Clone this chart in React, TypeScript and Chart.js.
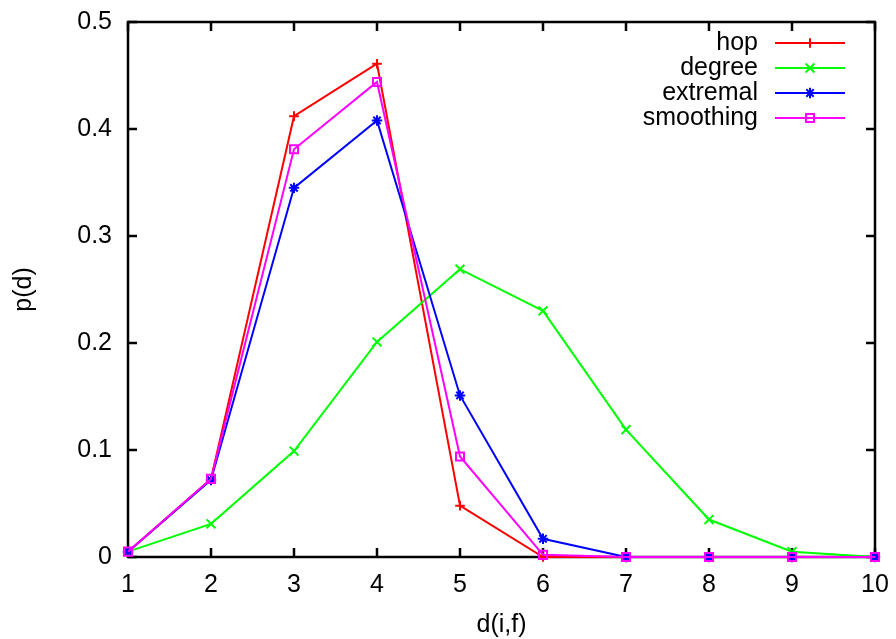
import React, { useEffect, useRef } from "react";
import { Chart, registerables } from "chart.js";

Chart.register(...registerables);

const xValues = [1, 2, 3, 4, 5, 6, 7, 8, 9, 10];
const hop = [0.005, 0.073, 0.412, 0.461, 0.048, 0.0, 0.0, 0.0, 0.0, 0.0];
const degree = [0.005, 0.031, 0.099, 0.201, 0.269, 0.23, 0.119, 0.035, 0.005, 0.0];
const extremal = [0.005, 0.072, 0.345, 0.408, 0.151, 0.017, 0.0, 0.0, 0.0, 0.0];
const smoothing = [0.005, 0.073, 0.381, 0.444, 0.094, 0.002, 0.0, 0.0, 0.0, 0.0];
const seriesNames = ["hop", "degree", "extremal", "smoothing"];
const yTickValues = [0, 0.1, 0.2, 0.3, 0.4, 0.5];

const FONT = "'Liberation Sans', Arial, Helvetica, sans-serif";
const FS = 25;

function drawMarker(ctx: CanvasRenderingContext2D, style: string, r: number, x: number, y: number) {
  const d = Math.SQRT1_2 * r;
  ctx.beginPath();
  if (style === "cross" || style === "star") {
    ctx.moveTo(x - r, y);
    ctx.lineTo(x + r, y);
    ctx.moveTo(x, y - r);
    ctx.lineTo(x, y + r);
  }
  if (style === "crossRot" || style === "star") {
    ctx.moveTo(x - d, y - d);
    ctx.lineTo(x + d, y + d);
    ctx.moveTo(x - d, y + d);
    ctx.lineTo(x + d, y - d);
  }
  if (style === "rect") {
    ctx.rect(x - d, y - d, 2 * d, 2 * d);
  }
  ctx.stroke();
}

const framePlugin = {
  id: "gnuplotFrame",
  beforeDatasetsDraw(chart: any) {
    const { ctx, chartArea } = chart;
    const { left, right, top, bottom } = chartArea;
    const xs = chart.scales.x;
    const ys = chart.scales.y;
    const tl = 9;
    ctx.save();
    ctx.strokeStyle = "#000";
    ctx.lineWidth = 2.5;
    ctx.lineCap = "butt";
    ctx.beginPath();
    ys.ticks.forEach((t: any) => {
      const y = ys.getPixelForValue(t.value);
      ctx.moveTo(left, y);
      ctx.lineTo(left + tl, y);
      ctx.moveTo(right, y);
      ctx.lineTo(right - tl, y);
    });
    xs.ticks.forEach((t: any) => {
      const x = xs.getPixelForValue(t.value);
      ctx.moveTo(x, bottom);
      ctx.lineTo(x, bottom - tl);
      ctx.moveTo(x, top);
      ctx.lineTo(x, top + tl);
    });
    ctx.stroke();
    ctx.lineJoin = "miter";
    ctx.strokeRect(left, top, right - left, bottom - top);
    ctx.restore();
  },
  afterDatasetsDraw(chart: any) {
    const { ctx } = chart;
    const textRight = 758;
    const lineL = 775;
    const lineR = 845;
    const y0 = 43;
    const dy = 25;
    ctx.save();
    ctx.font = `${FS}px ${FONT}`;
    ctx.textAlign = "right";
    ctx.textBaseline = "middle";
    chart.data.datasets.forEach((ds: any, i: number) => {
      const y = y0 + i * dy;
      ctx.fillStyle = "#000";
      ctx.fillText(ds.label, textRight, y);
      ctx.strokeStyle = ds.borderColor;
      ctx.lineWidth = ds.borderWidth;
      ctx.beginPath();
      ctx.moveTo(lineL, y);
      ctx.lineTo(lineR, y);
      ctx.stroke();
      ctx.lineWidth = ds.pointBorderWidth;
      drawMarker(ctx, ds.pointStyle, ds.pointRadius, (lineL + lineR) / 2, y);
    });
    ctx.restore();
  },
};

export default function App() {
  const ref = useRef<HTMLCanvasElement | null>(null);
  useEffect(() => {
    document.body.style.margin = "0";
    const mk = (vals: number[]) => xValues.map((x, i) => ({ x, y: vals[i] }));
    const colors = ["#ff0000", "#00ff00", "#0000ff", "#ff00ff"];
    const styles = ["cross", "crossRot", "star", "rect"];
    const radii = [4.8, 6.3, 5.2, 5.7];
    const all = [hop, degree, extremal, smoothing];
    const chart = new Chart(ref.current as HTMLCanvasElement, {
      type: "line",
      data: {
        datasets: all.map((vals, i) => ({
          label: seriesNames[i],
          data: mk(vals),
          borderColor: colors[i],
          backgroundColor: "rgba(0,0,0,0)",
          pointBorderColor: colors[i],
          pointBackgroundColor: "rgba(0,0,0,0)",
          borderWidth: 2,
          pointBorderWidth: 2,
          pointStyle: styles[i],
          pointRadius: radii[i],
          tension: 0,
          fill: false,
          clip: false,
          order: 4 - i,
        })),
      } as any,
      options: {
        animation: false,
        responsive: false,
        layout: { padding: { left: 0, top: 22, right: 21, bottom: 0 } },
        plugins: { legend: { display: false }, tooltip: { enabled: false } },
        scales: {
          x: {
            type: "linear",
            min: 1,
            max: 10,
            afterFit: (s: any) => {
              s.height = 82;
              s.paddingLeft = 0;
              s.paddingRight = 0;
              s.paddingTop = 0;
              s.paddingBottom = 0;
            },
            grid: { display: false, drawTicks: false, tickLength: 0 },
            border: { display: false },
            ticks: { stepSize: 1, color: "#000", padding: 13, font: { family: FONT, size: FS } },
            title: { display: true, text: "d(i,f)", color: "#000", padding: { top: 0, bottom: 0 }, font: { family: FONT, size: FS, lineHeight: 1.1 } },
          },
          y: {
            type: "linear",
            min: 0,
            max: 0.5,
            afterFit: (s: any) => {
              s.width = 128;
              s.paddingLeft = 0;
              s.paddingRight = 0;
              s.paddingTop = 0;
              s.paddingBottom = 0;
            },
            afterBuildTicks: (s: any) => { s.ticks = yTickValues.map((v) => ({ value: v })); },
            grid: { display: false, drawTicks: false, tickLength: 0 },
            border: { display: false },
            ticks: { color: "#000", padding: 16, font: { family: FONT, size: FS } },
            title: { display: true, text: "p(d)", color: "#000", padding: { top: 9, bottom: 0 }, font: { family: FONT, size: FS } },
          },
        },
      } as any,
      plugins: [framePlugin],
    });
    return () => chart.destroy();
  }, []);
  return (
    <div style={{ position: "absolute", left: 0, top: 0, width: 896, height: 639 }}>
      <canvas ref={ref} width={896} height={639} />
    </div>
  );
}
